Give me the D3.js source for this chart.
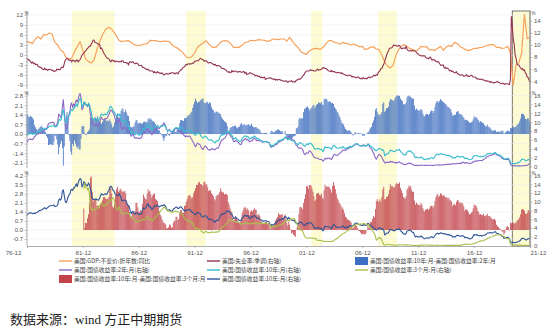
<!DOCTYPE html>
<html>
<head>
<meta charset="utf-8">
<script src="https://cdn.jsdelivr.net/npm/d3@7/dist/d3.min.js"></script>
<style>
  html, body { margin: 0; padding: 0; background: #fff; }
  svg { display: block; font-family: "Liberation Sans", "Noto Sans CJK SC", sans-serif; }
</style>
</head>
<body>
<svg id="chart" width="549" height="333"></svg>
<script>
// ---- Data -------------------------------------------------------------
// Monthly series start in Dec 1976; one line per calendar year from 1977.
const monthlyStart = "1976-12";

// US unemployment rate, seasonally adjusted (%)
const unemployment = [7.8,
  7.5,7.6,7.4,7.2,7.0,7.2,6.9,7.0,6.8,6.8,6.8,6.4,
  6.4,6.3,6.3,6.1,6.0,5.9,6.2,5.9,6.0,5.8,5.9,6.0,
  5.9,5.9,5.8,5.8,5.6,5.7,5.7,6.0,5.9,6.0,5.9,6.0,
  6.3,6.3,6.3,6.9,7.5,7.6,7.8,7.7,7.5,7.5,7.5,7.2,
  7.5,7.4,7.4,7.2,7.5,7.5,7.2,7.4,7.6,7.9,8.3,8.5,
  8.6,8.9,9.0,9.3,9.4,9.6,9.8,9.8,10.1,10.4,10.8,10.8,
  10.4,10.4,10.3,10.2,10.1,10.1,9.4,9.5,9.2,8.8,8.5,8.3,
  8.0,7.8,7.8,7.7,7.4,7.2,7.5,7.5,7.3,7.4,7.2,7.3,
  7.3,7.2,7.2,7.3,7.2,7.4,7.4,7.1,7.1,7.1,7.0,7.0,
  6.7,7.2,7.2,7.1,7.2,7.2,7.0,6.9,7.0,7.0,6.9,6.6,
  6.6,6.6,6.6,6.3,6.3,6.2,6.1,6.0,5.9,6.0,5.8,5.7,
  5.7,5.7,5.7,5.4,5.6,5.4,5.4,5.6,5.4,5.4,5.3,5.3,
  5.4,5.2,5.0,5.2,5.2,5.3,5.2,5.2,5.3,5.3,5.4,5.4,
  5.4,5.3,5.2,5.4,5.4,5.2,5.5,5.7,5.9,5.9,6.2,6.3,
  6.4,6.6,6.8,6.7,6.9,6.9,6.8,6.9,6.9,7.0,7.0,7.3,
  7.3,7.4,7.4,7.4,7.6,7.8,7.7,7.6,7.6,7.3,7.4,7.4,
  7.3,7.1,7.0,7.1,7.1,7.0,6.9,6.8,6.7,6.8,6.6,6.5,
  6.6,6.6,6.5,6.4,6.1,6.1,6.1,6.0,5.9,5.8,5.6,5.5,
  5.6,5.4,5.4,5.8,5.6,5.6,5.7,5.7,5.6,5.5,5.6,5.6,
  5.6,5.5,5.5,5.6,5.6,5.3,5.5,5.1,5.2,5.2,5.4,5.4,
  5.3,5.2,5.2,5.1,4.9,5.0,4.9,4.8,4.9,4.7,4.6,4.7,
  4.6,4.6,4.7,4.3,4.4,4.5,4.5,4.5,4.6,4.5,4.4,4.4,
  4.3,4.4,4.2,4.3,4.2,4.3,4.3,4.2,4.2,4.1,4.1,4.0,
  4.0,4.1,4.0,3.8,4.0,4.0,4.0,4.1,3.9,3.9,3.9,3.9,
  4.2,4.2,4.3,4.4,4.3,4.5,4.6,4.9,5.0,5.3,5.5,5.7,
  5.7,5.7,5.7,5.9,5.8,5.8,5.8,5.7,5.7,5.7,5.9,6.0,
  5.8,5.9,5.9,6.0,6.1,6.3,6.2,6.1,6.1,6.0,5.8,5.7,
  5.7,5.6,5.8,5.6,5.6,5.6,5.5,5.4,5.4,5.5,5.4,5.4,
  5.3,5.4,5.2,5.2,5.1,5.0,5.0,4.9,5.0,5.0,5.0,4.9,
  4.7,4.8,4.7,4.7,4.6,4.6,4.7,4.7,4.5,4.4,4.5,4.4,
  4.6,4.5,4.4,4.5,4.4,4.6,4.7,4.6,4.7,4.7,4.7,5.0,
  5.0,4.9,5.1,5.0,5.4,5.6,5.8,6.1,6.1,6.5,6.8,7.3,
  7.8,8.3,8.7,9.0,9.4,9.5,9.5,9.6,9.8,10.0,9.9,9.9,
  9.8,9.8,9.9,9.9,9.6,9.4,9.4,9.5,9.5,9.4,9.8,9.3,
  9.1,9.0,9.0,9.1,9.0,9.1,9.0,9.0,9.0,8.8,8.6,8.5,
  8.3,8.3,8.2,8.2,8.2,8.2,8.2,8.0,7.8,7.8,7.7,7.9,
  8.0,7.7,7.5,7.6,7.5,7.5,7.3,7.2,7.2,7.2,6.9,6.7,
  6.6,6.7,6.7,6.2,6.3,6.1,6.2,6.1,5.9,5.7,5.8,5.6,
  5.7,5.5,5.4,5.4,5.6,5.3,5.2,5.1,5.0,5.0,5.1,5.0,
  4.8,4.9,5.0,5.1,4.8,4.9,4.8,4.9,5.0,4.9,4.7,4.7,
  4.7,4.6,4.4,4.4,4.4,4.3,4.3,4.4,4.3,4.2,4.2,4.1,
  4.0,4.1,4.0,4.0,3.8,4.0,3.8,3.8,3.7,3.8,3.8,3.9,
  4.0,3.8,3.8,3.7,3.6,3.6,3.7,3.6,3.5,3.6,3.6,3.6,
  3.5,3.5,4.4,14.7,13.2,11.0,10.2,8.4,7.8,6.9,6.7,6.7,
  6.4,6.2,6.0,6.1,5.8,5.9,5.4,5.2,4.7,4.6,4.2,3.9];

// 10-year Treasury yield, monthly (%)
const yield10y = [6.87,
  7.21,7.39,7.46,7.37,7.46,7.28,7.33,7.40,7.34,7.52,7.58,7.69,
  7.96,8.03,8.04,8.15,8.35,8.46,8.64,8.41,8.42,8.64,8.81,9.01,
  9.10,9.10,9.12,9.18,9.25,8.91,8.95,9.03,9.33,10.30,10.65,10.39,
  10.80,12.41,12.75,11.47,10.18,9.78,10.25,11.10,11.51,11.75,12.68,12.84,
  12.57,13.19,13.12,13.68,14.10,13.47,14.28,14.94,15.32,15.15,13.39,13.72,
  14.59,14.43,13.86,13.87,13.62,14.30,13.95,13.06,12.34,10.91,10.55,10.54,
  10.46,10.72,10.51,10.40,10.38,10.85,11.38,11.85,11.65,11.54,11.69,11.83,
  11.67,11.84,12.32,12.63,13.41,13.56,13.36,12.72,12.52,12.16,11.57,11.50,
  11.38,11.51,11.86,11.43,10.85,10.16,10.31,10.33,10.37,10.24,9.78,9.26,
  9.19,8.70,7.78,7.30,7.71,7.80,7.30,7.17,7.45,7.43,7.25,7.11,
  7.08,7.25,7.25,8.02,8.61,8.40,8.45,8.76,9.42,9.52,8.86,8.99,
  8.67,8.21,8.37,8.72,9.09,8.92,9.06,9.26,8.98,8.80,8.96,9.11,
  9.09,9.17,9.36,9.18,8.86,8.28,8.02,8.11,8.19,8.01,7.87,7.84,
  8.21,8.47,8.59,8.79,8.76,8.48,8.47,8.75,8.89,8.72,8.39,8.08,
  8.09,7.85,8.11,8.04,8.07,8.28,8.27,7.90,7.65,7.53,7.42,7.09,
  7.03,7.34,7.54,7.48,7.39,7.26,6.84,6.59,6.42,6.59,6.87,6.77,
  6.60,6.26,5.98,5.97,6.04,5.96,5.81,5.68,5.36,5.33,5.72,5.77,
  5.75,5.97,6.48,6.97,7.18,7.10,7.30,7.24,7.46,7.74,7.96,7.81,
  7.78,7.47,7.20,7.06,6.63,6.17,6.28,6.49,6.20,6.04,5.93,5.71,
  5.65,5.81,6.27,6.51,6.74,6.91,6.87,6.64,6.83,6.53,6.20,6.30,
  6.58,6.42,6.69,6.89,6.71,6.49,6.22,6.30,6.21,6.03,5.88,5.81,
  5.54,5.57,5.65,5.64,5.65,5.50,5.46,5.34,4.81,4.53,4.83,4.65,
  4.72,5.00,5.23,5.18,5.54,5.90,5.79,5.94,5.92,6.11,6.03,6.28,
  6.66,6.52,6.26,5.99,6.44,6.10,6.05,5.83,5.80,5.74,5.72,5.24,
  5.16,5.10,4.89,5.14,5.39,5.28,5.24,4.97,4.73,4.57,4.65,5.09,
  5.04,4.91,5.28,5.21,5.16,4.93,4.65,4.26,3.87,3.94,4.05,4.03,
  4.05,3.90,3.81,3.96,3.57,3.33,3.98,4.45,4.27,4.29,4.30,4.27,
  4.15,4.08,3.83,4.35,4.72,4.73,4.50,4.28,4.13,4.10,4.19,4.23,
  4.22,4.17,4.50,4.34,4.14,4.00,4.18,4.26,4.20,4.46,4.54,4.47,
  4.42,4.57,4.72,4.99,5.11,5.11,5.09,4.88,4.72,4.73,4.60,4.56,
  4.76,4.72,4.56,4.69,4.75,5.10,5.00,4.67,4.52,4.53,4.15,4.10,
  3.74,3.74,3.51,3.68,3.88,4.10,4.01,3.89,3.69,3.81,3.53,2.42,
  2.52,2.87,2.82,2.93,3.29,3.72,3.56,3.59,3.40,3.39,3.40,3.59,
  3.73,3.69,3.73,3.85,3.42,3.20,3.01,2.70,2.65,2.54,2.76,3.29,
  3.39,3.58,3.41,3.46,3.17,3.00,3.00,2.30,1.98,2.15,2.01,1.98,
  1.97,1.97,2.17,2.05,1.80,1.62,1.53,1.68,1.72,1.75,1.65,1.72,
  1.91,1.98,1.96,1.76,1.93,2.30,2.58,2.74,2.81,2.62,2.72,2.90,
  2.86,2.71,2.72,2.71,2.56,2.60,2.54,2.42,2.53,2.30,2.33,2.21,
  1.88,1.98,2.04,1.94,2.20,2.36,2.32,2.17,2.17,2.07,2.26,2.24,
  2.09,1.78,1.89,1.81,1.81,1.64,1.50,1.56,1.63,1.76,2.14,2.49,
  2.43,2.42,2.48,2.30,2.30,2.19,2.32,2.21,2.20,2.36,2.35,2.40,
  2.58,2.86,2.84,2.87,2.98,2.91,2.89,2.89,3.00,3.15,3.12,2.83,
  2.71,2.68,2.57,2.53,2.40,2.07,2.06,1.63,1.70,1.71,1.81,1.86,
  1.76,1.50,0.87,0.66,0.67,0.73,0.62,0.65,0.68,0.79,0.87,0.93,
  1.08,1.26,1.61,1.64,1.62,1.52,1.32,1.28,1.37,1.58,1.56,1.47];

// 2-year Treasury yield, monthly (%)
const yield2y = [5.41,
  5.87,6.14,6.22,6.05,6.20,6.09,6.27,6.75,6.85,7.17,7.30,7.32,
  7.55,7.54,7.49,7.56,7.89,8.13,8.40,8.27,8.55,8.94,9.61,9.81,
  9.83,9.86,9.94,9.98,9.81,9.05,9.06,9.43,10.10,11.79,11.61,11.09,
  11.31,13.42,15.06,12.38,9.47,8.41,8.64,10.14,11.60,12.26,13.96,14.36,
  13.29,14.08,13.59,14.38,15.00,14.52,15.20,16.07,16.46,15.51,12.82,13.16,
  14.00,14.35,13.92,13.93,13.47,14.08,13.59,11.85,11.05,9.80,9.43,9.37,
  9.21,9.55,9.37,9.10,9.31,10.00,10.52,11.10,10.76,10.53,10.57,10.78,
  10.74,10.85,11.33,11.73,12.33,12.65,12.64,12.25,11.97,11.31,10.47,10.17,
  9.88,10.29,10.69,9.99,9.17,8.35,8.44,8.74,8.77,8.46,8.22,7.91,
  7.87,7.76,7.25,6.82,7.21,7.25,6.75,6.34,6.46,6.40,6.43,6.37,
  6.26,6.44,6.50,7.26,7.74,7.49,7.57,7.91,8.53,8.42,7.71,7.96,
  7.53,7.17,7.46,7.77,8.25,8.19,8.53,8.82,8.69,8.53,8.87,9.16,
  9.20,9.48,9.86,9.46,8.99,8.42,7.92,8.18,8.32,7.96,7.76,7.73,
  7.95,8.22,8.44,8.64,8.50,8.21,7.99,7.96,7.87,7.69,7.41,7.13,
  6.94,6.69,6.94,6.75,6.72,6.92,6.82,6.35,6.01,5.62,5.26,4.74,
  4.44,4.92,5.27,5.14,5.03,4.82,4.31,4.04,3.80,4.28,4.61,4.52,
  4.24,3.93,3.78,3.66,3.78,3.98,4.02,3.92,3.78,3.79,4.06,4.17,
  4.14,4.45,5.00,5.53,5.94,5.99,6.27,6.31,6.57,6.94,7.37,7.65,
  7.51,7.04,6.70,6.56,6.06,5.60,5.66,5.90,5.71,5.62,5.41,5.17,
  4.94,5.02,5.60,5.86,6.03,6.23,6.26,5.99,6.15,5.82,5.56,5.69,
  5.83,5.84,6.19,6.42,6.20,5.98,5.80,5.91,5.84,5.76,5.74,5.77,
  5.47,5.51,5.58,5.57,5.56,5.52,5.46,5.34,4.75,4.30,4.59,4.50,
  4.58,4.84,4.98,4.94,5.21,5.57,5.51,5.74,5.73,5.91,6.03,6.24,
  6.44,6.61,6.53,6.40,6.81,6.48,6.34,6.23,6.08,5.91,5.88,5.35,
  4.76,4.66,4.34,4.07,4.19,4.18,4.08,3.83,3.12,2.73,2.78,3.11,
  3.03,3.02,3.56,3.42,3.26,2.99,2.56,2.13,2.00,1.91,1.92,1.84,
  1.74,1.63,1.57,1.62,1.42,1.23,1.47,1.86,1.71,1.75,1.93,1.91,
  1.76,1.74,1.58,2.07,2.53,2.76,2.64,2.51,2.53,2.58,2.85,3.01,
  3.22,3.38,3.73,3.65,3.64,3.64,3.87,4.04,3.95,4.17,4.33,4.35,
  4.45,4.68,4.77,4.90,4.97,5.12,5.04,4.82,4.67,4.69,4.58,4.68,
  4.88,4.85,4.57,4.67,4.77,4.96,4.82,4.34,4.06,3.99,3.34,3.12,
  2.48,1.97,1.62,2.05,2.45,2.77,2.57,2.42,2.08,1.61,1.21,0.82,
  0.81,0.98,0.93,0.93,0.93,1.18,1.02,1.12,0.96,0.95,0.80,0.87,
  0.93,0.86,0.96,1.06,0.83,0.72,0.62,0.52,0.48,0.38,0.45,0.62,
  0.61,0.77,0.70,0.73,0.56,0.41,0.41,0.23,0.21,0.28,0.25,0.26,
  0.24,0.28,0.34,0.29,0.29,0.29,0.25,0.27,0.26,0.28,0.27,0.26,
  0.27,0.27,0.26,0.23,0.25,0.33,0.34,0.36,0.40,0.34,0.31,0.34,
  0.39,0.33,0.40,0.42,0.39,0.45,0.51,0.47,0.57,0.45,0.53,0.64,
  0.55,0.62,0.64,0.54,0.61,0.69,0.67,0.70,0.71,0.64,0.88,0.98,
  0.90,0.73,0.88,0.77,0.82,0.73,0.67,0.74,0.77,0.84,1.07,1.20,
  1.21,1.20,1.31,1.24,1.30,1.34,1.37,1.34,1.38,1.57,1.70,1.84,
  2.03,2.18,2.28,2.38,2.51,2.53,2.61,2.64,2.77,2.86,2.86,2.68,
  2.54,2.50,2.41,2.34,2.21,1.81,1.84,1.57,1.65,1.55,1.61,1.61,
  1.52,1.33,0.45,0.23,0.17,0.19,0.15,0.14,0.13,0.15,0.17,0.14,
  0.13,0.12,0.15,0.16,0.16,0.20,0.22,0.21,0.24,0.42,0.56,0.68];

// 3-month Treasury yield, monthly from Jan 1982 (%)
const yield3mStart = "1982-01";
const yield3m = [
  12.92,14.28,13.31,13.34,12.71,13.08,11.86,9.00,8.19,7.97,8.35,8.20,
  8.12,8.39,8.66,8.51,8.50,9.14,9.45,9.74,9.36,8.99,9.11,9.36,
  9.26,9.46,9.89,10.07,10.22,10.26,10.53,10.90,10.80,10.12,8.92,8.34,
  8.02,8.56,8.83,8.22,7.73,7.18,7.32,7.37,7.33,7.40,7.48,7.33,
  7.30,7.29,6.76,6.24,6.33,6.40,6.00,5.69,5.35,5.32,5.50,5.68,
  5.70,5.69,5.78,5.99,5.86,5.86,6.04,6.40,6.62,6.35,5.89,5.96,
  5.91,5.69,5.69,5.92,6.27,6.50,6.73,7.02,7.23,7.34,7.76,8.07,
  8.27,8.53,8.82,8.65,8.43,8.15,7.88,7.90,7.75,7.64,7.69,7.63,
  7.64,7.74,7.90,7.77,7.74,7.73,7.62,7.45,7.36,7.17,7.06,6.74,
  6.22,5.94,5.91,5.65,5.46,5.57,5.58,5.33,5.22,4.99,4.56,4.07,
  3.80,3.84,4.05,3.81,3.66,3.70,3.28,3.14,2.97,2.84,3.14,3.25,
  3.06,2.95,2.97,2.89,2.96,3.10,3.05,3.05,2.96,3.04,3.12,3.08,
  3.02,3.21,3.52,3.74,4.19,4.18,4.39,4.50,4.64,4.96,5.25,5.64,
  5.81,5.80,5.73,5.67,5.70,5.50,5.47,5.41,5.26,5.30,5.35,5.16,
  5.02,4.87,4.96,4.99,5.02,5.11,5.17,5.09,5.15,5.01,5.03,4.87,
  5.05,5.00,5.14,5.17,5.13,4.92,5.07,5.13,4.97,4.95,5.15,5.16,
  5.07,5.06,5.08,5.01,5.03,4.99,4.96,4.94,4.74,4.08,4.44,4.42,
  4.34,4.45,4.48,4.28,4.51,4.59,4.60,4.76,4.73,4.88,5.07,5.23,
  5.43,5.68,5.69,5.66,5.79,5.69,6.00,6.11,6.00,6.11,6.17,5.77,
  5.15,4.88,4.42,3.87,3.62,3.49,3.51,3.36,2.64,2.16,1.87,1.69,
  1.65,1.73,1.79,1.72,1.73,1.70,1.68,1.62,1.63,1.58,1.23,1.19,
  1.17,1.17,1.13,1.13,1.07,0.92,0.90,0.95,0.94,0.92,0.93,0.90,
  0.88,0.93,0.94,0.94,1.02,1.27,1.33,1.48,1.65,1.76,2.07,2.19,
  2.33,2.54,2.74,2.78,2.84,2.97,3.22,3.44,3.42,3.71,3.88,3.89,
  4.24,4.43,4.51,4.60,4.72,4.79,4.95,4.96,4.81,4.92,4.94,4.85,
  5.06,5.05,4.92,4.93,4.73,4.61,4.82,4.20,3.89,3.90,3.27,3.00,
  2.75,2.12,1.26,1.29,1.73,1.86,1.63,1.72,1.13,0.67,0.19,0.03,
  0.13,0.30,0.22,0.16,0.18,0.18,0.18,0.17,0.12,0.07,0.05,0.05,
  0.08,0.12,0.15,0.16,0.16,0.12,0.16,0.16,0.15,0.13,0.14,0.14,
  0.15,0.13,0.10,0.06,0.04,0.04,0.04,0.02,0.01,0.02,0.01,0.01,
  0.03,0.09,0.08,0.08,0.09,0.09,0.10,0.10,0.11,0.10,0.09,0.07,
  0.07,0.10,0.09,0.06,0.04,0.05,0.04,0.04,0.02,0.05,0.07,0.07,
  0.04,0.05,0.05,0.03,0.03,0.04,0.03,0.03,0.02,0.02,0.02,0.03,
  0.03,0.02,0.03,0.02,0.02,0.02,0.03,0.07,0.02,0.02,0.13,0.23,
  0.26,0.31,0.29,0.23,0.28,0.27,0.30,0.30,0.29,0.33,0.45,0.51,
  0.52,0.53,0.75,0.81,0.90,1.00,1.09,1.03,1.05,1.09,1.25,1.34,
  1.43,1.59,1.73,1.79,1.90,1.94,2.00,2.07,2.17,2.29,2.37,2.41,
  2.42,2.44,2.45,2.43,2.40,2.22,2.15,1.99,1.93,1.68,1.57,1.57,
  1.55,1.54,0.30,0.14,0.13,0.16,0.13,0.10,0.11,0.10,0.09,0.09,
  0.08,0.04,0.03,0.02,0.02,0.04,0.05,0.05,0.04,0.05,0.05,0.06];

// Real GDP, year-on-year (%), quarterly, dated at quarter-end month from Dec 1976
const gdpStart = "1976-12";
const gdpYoY = [4.0,
  3.8,3.5,4.8,5.5,
  4.8,6.2,6.0,6.6,
  6.3,3.8,3.0,1.5,
  1.0,-0.8,-1.2,-0.9,
  1.0,2.5,4.0,1.3,
  -1.2,-2.0,-2.4,-1.5,
  1.5,4.0,6.0,7.5,
  8.3,8.0,7.0,5.8,
  4.3,4.0,4.2,4.3,
  4.0,3.3,3.0,2.8,
  3.0,3.3,3.4,4.4,
  4.3,4.3,4.1,4.0,
  4.2,4.1,4.0,2.9,
  2.4,2.0,1.3,0.5,
  -0.6,-0.9,-0.5,0.6,
  2.3,3.0,3.6,4.3,
  3.4,2.5,2.2,2.5,
  3.6,4.2,4.3,4.1,
  3.3,2.2,2.3,2.3,
  2.9,3.8,3.9,4.4,
  4.3,4.4,4.6,4.5,
  4.4,4.1,4.3,4.8,
  4.7,4.6,4.8,4.8,
  4.2,5.3,4.1,3.0,
  2.3,1.0,0.5,0.2,
  1.2,1.7,2.0,1.9,
  1.7,2.3,3.4,4.3,
  4.3,3.8,3.6,3.3,
  3.8,3.5,3.4,3.0,
  3.3,2.9,2.4,2.6,
  1.6,1.9,2.3,2.5,
  1.8,1.6,-0.1,-2.1,
  -3.3,-3.9,-3.1,-0.1,
  1.6,2.7,3.1,2.6,
  1.9,1.7,1.2,1.6,
  2.6,2.4,2.5,1.5,
  1.6,1.4,2.0,2.6,
  1.4,2.4,2.8,2.6,
  3.8,3.4,2.5,2.1,
  1.6,1.3,1.6,2.0,
  2.0,2.2,2.3,2.7,
  2.9,3.1,3.1,2.3,
  2.3,2.0,2.1,2.6,
  0.6,-9.1,-2.9,-2.3,
  0.5,12.2,4.9,5.5];

// Axis ticks
const xTickLabels = ["76-12","81-12","86-12","91-12","96-12","01-12","06-12","11-12","16-12","21-12"];
const topLeftTicks = [-9,-6,-3,0,3,6,9,12];
const topRightTicks = [4,6,8,10,12,14];
const midLeftTicks = [-2.1,-1.4,-0.7,0.0,0.7,1.4,2.1,2.8];
const lowLeftTicks = [-0.7,0.0,0.7,1.4,2.1,2.8,3.5,4.2];
const yieldTicks = [0,2,4,6,8,10,12,14,16];

// Highlighted periods (start month, end month)
const shadedPeriods = [["1980-12","1984-10"],["1991-03","1992-12"],["2002-05","2003-05"],["2008-05","2010-01"],["2020-05","2021-12"]];

// Legend
const legendLabels = [
  "美国:GDP:不变价:折年数:同比",
  "美国:失业率:季调(右轴)",
  "美国:国债收益率:10年:月-美国:国债收益率:2年:月",
  "美国:国债收益率:2年:月(右轴)",
  "美国:国债收益率:10年:月(右轴)",
  "美国:国债收益率:3个月:月(右轴)",
  "美国:国债收益率:10年:月-美国:国债收益率:3个月:月",
  "美国:国债收益率:10年:月(右轴)"
];
const sourceNote = "数据来源：wind  方正中期期货";

// ---- Styles -----------------------------------------------------------
const C = {
  gdp: "#f7a35c", unemp: "#93364f", spread2: "#3f6fc0", y2: "#8a67c6",
  y10: "#35bccd", spread3m: "#c2434a", y10b: "#2f5597", y3m: "#a9c04c",
  band: "#fdfbd2", grid: "#ececec", axis: "#9a9a9a", text: "#555"
};
const legendStyle = [
  {kind:"line", color:C.gdp}, {kind:"line", color:C.unemp}, {kind:"rect", color:C.spread2},
  {kind:"line", color:C.y2}, {kind:"line", color:C.y10}, {kind:"line", color:C.y3m},
  {kind:"rect", color:C.spread3m}, {kind:"line", color:C.y10b}
];

// ---- Build series -----------------------------------------------------
const parseYM = d3.timeParse("%Y-%m");
const parseTick = d3.timeParse("%y-%m");
const monthSeries = (start, arr, stepMonths = 1) => {
  const s = parseYM(start);
  return arr.map((v, i) => ({ date: d3.timeMonth.offset(s, i * stepMonths), value: v }));
};
const unempS = monthSeries(monthlyStart, unemployment);
const y10S = monthSeries(monthlyStart, yield10y);
const y2S = monthSeries(monthlyStart, yield2y);
const y3mS = monthSeries(yield3mStart, yield3m);
const gdpS = monthSeries(gdpStart, gdpYoY, 3);

const y10ByTime = new Map(y10S.map(d => [+d.date, d.value]));
const spread2S = y2S.filter(d => y10ByTime.has(+d.date))
  .map(d => ({ date: d.date, value: y10ByTime.get(+d.date) - d.value }));
const spread3mS = y3mS.filter(d => y10ByTime.has(+d.date))
  .map(d => ({ date: d.date, value: y10ByTime.get(+d.date) - d.value }));

// ---- Layout -----------------------------------------------------------
const svg = d3.select("#chart");
const X0 = 27, X1 = 530;
const x = d3.scaleTime().domain([parseYM("1976-12"), parseYM("2021-12")]).range([X0, X1]);
const monthW = (X1 - X0) / (45 * 12);

const panels = [
  { top: 11, bottom: 89,
    left: d3.scaleLinear().domain([-9, 12]).range([85, 15]),
    right: d3.scaleLinear().domain([4, 14]).range([81.3, 20.7]),
    lt: topLeftTicks, rt: topRightTicks, lf: d => String(d) },
  { top: 91, bottom: 168,
    left: d3.scaleLinear().domain([0, 2.8]).range([134, 134 - 2.8 * 13.7]),
    right: d3.scaleLinear().domain([0, 16]).range([166.5, 95.5]),
    lt: midLeftTicks, rt: yieldTicks, lf: d => d.toFixed(1) },
  { top: 171, bottom: 246,
    left: d3.scaleLinear().domain([0, 4.2]).range([230, 230 - 4.2 * 12.9]),
    right: d3.scaleLinear().domain([0, 16]).range([245.5, 175.5]),
    lt: lowLeftTicks, rt: yieldTicks, lf: d => d.toFixed(1) }
];

// Highlight bands behind everything
const bandG = svg.append("g");
shadedPeriods.forEach((p, i) => {
  const xa = x(parseYM(p[0])), xb = x(parseYM(p[1]));
  bandG.append("rect").attr("x", xa).attr("y", 11).attr("width", xb - xa).attr("height", 235)
    .attr("fill", C.band)
    .attr("stroke", i === shadedPeriods.length - 1 ? "#555" : "none")
    .attr("stroke-width", 0.8);
});

// Gridlines
panels.forEach(p => {
  svg.append("g").selectAll("line").data(p.lt).join("line")
    .attr("x1", X0).attr("x2", X1)
    .attr("y1", d => p.left(d)).attr("y2", d => p.left(d))
    .attr("stroke", C.grid).attr("stroke-width", 0.6);
});

// Bars
function drawBars(data, scale, color) {
  svg.append("g").selectAll("rect").data(data).join("rect")
    .attr("x", d => x(d.date) - monthW * 0.42)
    .attr("width", monthW * 0.84)
    .attr("y", d => Math.min(scale(d.value), scale(0)))
    .attr("height", d => Math.abs(scale(d.value) - scale(0)))
    .attr("fill", color);
}
// Lines
function drawLine(data, scale, color, w = 1.1) {
  svg.append("path").datum(data)
    .attr("fill", "none").attr("stroke", color).attr("stroke-width", w)
    .attr("stroke-linejoin", "round")
    .attr("d", d3.line().x(d => x(d.date)).y(d => scale(d.value)));
}

// Panel 1: GDP (left) and unemployment (right)
drawLine(gdpS, panels[0].left, C.gdp, 1.2);
drawLine(unempS, panels[0].right, C.unemp, 1.1);
// Panel 2: 10Y-2Y spread bars (left), 2Y and 10Y yields (right)
drawBars(spread2S, panels[1].left, C.spread2);
drawLine(y2S, panels[1].right, C.y2, 1.1);
drawLine(y10S, panels[1].right, C.y10, 1.1);
// Panel 3: 10Y-3M spread bars (left), 10Y and 3M yields (right)
drawBars(spread3mS, panels[2].left, C.spread3m);
drawLine(y10S, panels[2].right, C.y10b, 1.1);
drawLine(y3mS, panels[2].right, C.y3m, 1.1);

// Axes
function yAxis(p, scale, ticks, fmt, side) {
  const xp = side === "left" ? X0 : X1;
  const g = svg.append("g").attr("transform", `translate(${xp},0)`);
  const gen = (side === "left" ? d3.axisLeft(scale) : d3.axisRight(scale))
    .tickValues(ticks).tickFormat(fmt).tickSize(2.5).tickPadding(1.5);
  g.call(gen);
  g.select(".domain").remove();
  g.selectAll(".tick line").attr("stroke", C.axis).attr("stroke-width", 0.6);
  g.selectAll(".tick text").attr("fill", C.text).attr("font-size", 6)
    .attr("font-family", "Liberation Sans, sans-serif");
  // minor ticks between majors
  const step = ticks[1] - ticks[0];
  const minor = [];
  ticks.forEach(t => { minor.push(t + step / 3, t + 2 * step / 3); });
  const d1 = d3.max(ticks);
  g.selectAll(".minor").data(minor.filter(m => m < d1)).join("line")
    .attr("class", "minor")
    .attr("x1", 0).attr("x2", side === "left" ? -1.5 : 1.5)
    .attr("y1", d => scale(d)).attr("y2", d => scale(d))
    .attr("stroke", C.axis).attr("stroke-width", 0.5);
  g.append("line").attr("x1", 0).attr("x2", 0).attr("y1", p.top).attr("y2", p.bottom)
    .attr("stroke", C.axis).attr("stroke-width", 0.8);
  g.append("text").attr("x", 1.5).attr("y", p.top + 3.5)
    .attr("font-size", 4.5).attr("fill", C.text).text("%");
}
panels.forEach(p => {
  yAxis(p, p.left, p.lt, p.lf, "left");
  yAxis(p, p.right, p.rt, d => String(d), "right");
});

// X axis
const xg = svg.append("g").attr("transform", `translate(0,246)`);
xg.call(d3.axisBottom(x).tickValues(xTickLabels.map(parseTick))
  .tickFormat(d3.timeFormat("%y-%m")).tickSize(2).tickPadding(2.5));
xg.select(".domain").attr("stroke", C.axis).attr("stroke-width", 0.8);
xg.selectAll(".tick line").attr("stroke", C.axis).attr("stroke-width", 0.6);
xg.selectAll(".tick text").attr("fill", C.text).attr("font-size", 6.2)
  .attr("font-family", "Liberation Sans, sans-serif");
const tickTexts = xg.selectAll(".tick text").nodes();
d3.select(tickTexts[0]).attr("text-anchor", "end").attr("dx", -6);
d3.select(tickTexts[tickTexts.length - 1]).attr("text-anchor", "start").attr("dx", 0);

// Legend
const colX = [59, 207, 355], rowY = [261, 270, 279];
const lg = svg.append("g");
legendLabels.forEach((label, i) => {
  const cx = colX[i % 3], cy = rowY[Math.floor(i / 3)];
  const st = legendStyle[i];
  if (st.kind === "line") {
    lg.append("line").attr("x1", cx).attr("x2", cx + 13).attr("y1", cy).attr("y2", cy)
      .attr("stroke", st.color).attr("stroke-width", 1.4);
  } else {
    lg.append("rect").attr("x", cx).attr("y", cy - 4).attr("width", 13).attr("height", 8)
      .attr("fill", st.color);
  }
  lg.append("text").attr("x", cx + 15).attr("y", cy).attr("dy", "0.35em")
    .attr("font-size", 5.8).attr("fill", "#444")
    .attr("font-family", "Noto Sans CJK SC, sans-serif").text(label);
});

// Source note
svg.append("text").attr("x", 10).attr("y", 324)
  .attr("font-size", 13).attr("fill", "#222")
  .attr("font-family", "Liberation Serif, Noto Sans CJK SC, serif")
  .text(sourceNote);
</script>
</body>
</html>
